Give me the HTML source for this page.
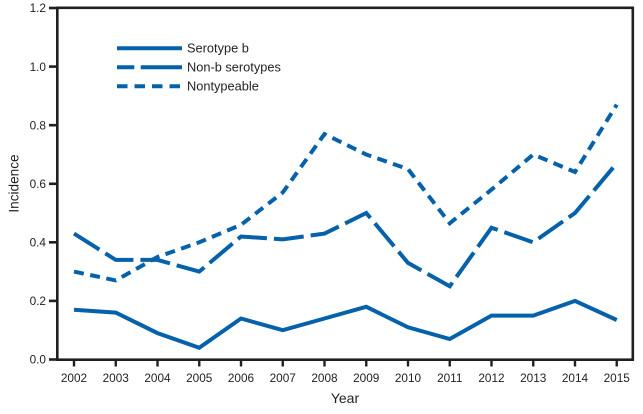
<!DOCTYPE html>
<html>
<head>
<meta charset="utf-8">
<style>
html,body{margin:0;padding:0;background:#fff;}
svg{display:block;}
text{font-family:"Liberation Sans",sans-serif;fill:#231f20;}
</style>
</head>
<body>
<svg width="643" height="414" viewBox="0 0 643 414" xmlns="http://www.w3.org/2000/svg">
  <!-- frame -->
  <rect x="57.3" y="7.8" width="575.5" height="351.9" fill="none" stroke="#231f20" stroke-width="2.6"/>
  <!-- y ticks -->
  <g stroke="#231f20" stroke-width="2.6">
    <line x1="49" y1="8" x2="57" y2="8"/>
    <line x1="49" y1="66.6" x2="57" y2="66.6"/>
    <line x1="49" y1="125.2" x2="57" y2="125.2"/>
    <line x1="49" y1="183.8" x2="57" y2="183.8"/>
    <line x1="49" y1="242.3" x2="57" y2="242.3"/>
    <line x1="49" y1="300.9" x2="57" y2="300.9"/>
    <line x1="49" y1="359.5" x2="57" y2="359.5"/>
  </g>
  <g font-size="11.8" text-anchor="end">
    <text x="46" y="12.2">1.2</text>
    <text x="46" y="70.8">1.0</text>
    <text x="46" y="129.4">0.8</text>
    <text x="46" y="188">0.6</text>
    <text x="46" y="246.5">0.4</text>
    <text x="46" y="305.1">0.2</text>
    <text x="46" y="363.7">0.0</text>
  </g>
  <!-- x ticks -->
  <g stroke="#231f20" stroke-width="2.4">
    <line x1="74" y1="360" x2="74" y2="366.5"/>
    <line x1="115.75" y1="360" x2="115.75" y2="366.5"/>
    <line x1="157.5" y1="360" x2="157.5" y2="366.5"/>
    <line x1="199.25" y1="360" x2="199.25" y2="366.5"/>
    <line x1="241" y1="360" x2="241" y2="366.5"/>
    <line x1="282.75" y1="360" x2="282.75" y2="366.5"/>
    <line x1="324.5" y1="360" x2="324.5" y2="366.5"/>
    <line x1="366.25" y1="360" x2="366.25" y2="366.5"/>
    <line x1="408" y1="360" x2="408" y2="366.5"/>
    <line x1="449.75" y1="360" x2="449.75" y2="366.5"/>
    <line x1="491.5" y1="360" x2="491.5" y2="366.5"/>
    <line x1="533.25" y1="360" x2="533.25" y2="366.5"/>
    <line x1="575" y1="360" x2="575" y2="366.5"/>
    <line x1="616.75" y1="360" x2="616.75" y2="366.5"/>
  </g>
  <g font-size="11.8" text-anchor="middle">
    <text x="74" y="382">2002</text>
    <text x="115.75" y="382">2003</text>
    <text x="157.5" y="382">2004</text>
    <text x="199.25" y="382">2005</text>
    <text x="241" y="382">2006</text>
    <text x="282.75" y="382">2007</text>
    <text x="324.5" y="382">2008</text>
    <text x="366.25" y="382">2009</text>
    <text x="408" y="382">2010</text>
    <text x="449.75" y="382">2011</text>
    <text x="491.5" y="382">2012</text>
    <text x="533.25" y="382">2013</text>
    <text x="575" y="382">2014</text>
    <text x="616.75" y="382">2015</text>
  </g>
  <text x="345" y="403" font-size="14" text-anchor="middle">Year</text>
  <text transform="translate(18.3,183.5) rotate(-90)" font-size="13.6" text-anchor="middle">Incidence</text>

  <!-- series -->
  <g fill="none" stroke="#0561a9" stroke-width="4" stroke-linejoin="miter">
    <polyline points="74,309.7 115.75,312.6 157.5,333.1 199.25,347.8 241,318.5 282.75,330.2 324.5,318.5 366.25,306.8 408,327.3 449.75,339 491.5,315.6 533.25,315.6 575,300.9 616.75,320"/>
    <polyline stroke-dasharray="30 7" points="74,233.6 115.75,259.9 157.5,259.9 199.25,271.6 241,236.5 282.75,239.4 324.5,233.6 366.25,213 408,262.9 449.75,286.3 491.5,227.7 533.25,242.3 575,213 616.75,163.3"/>
    <polyline stroke-dasharray="10 6.5" points="74,271.6 115.75,280.4 157.5,257 199.25,242.3 241,224.8 282.75,192.5 324.5,134 366.25,154.5 408,169.1 449.75,223.3 491.5,189.6 533.25,154.5 575,172 616.75,104.7"/>
  </g>

  <!-- legend -->
  <g fill="none" stroke="#0561a9" stroke-width="4">
    <line x1="117" y1="48.2" x2="182" y2="48.2"/>
    <line x1="117" y1="67.2" x2="134.3" y2="67.2"/>
    <line x1="140.7" y1="67.2" x2="182" y2="67.2"/>
    <line x1="117" y1="86.2" x2="182" y2="86.2" stroke-dasharray="10.5 7"/>
  </g>
  <g font-size="12.8">
    <text x="187" y="52.6">Serotype b</text>
    <text x="187" y="71.6">Non-b serotypes</text>
    <text x="187" y="90.6">Nontypeable</text>
  </g>
</svg>
</body>
</html>
